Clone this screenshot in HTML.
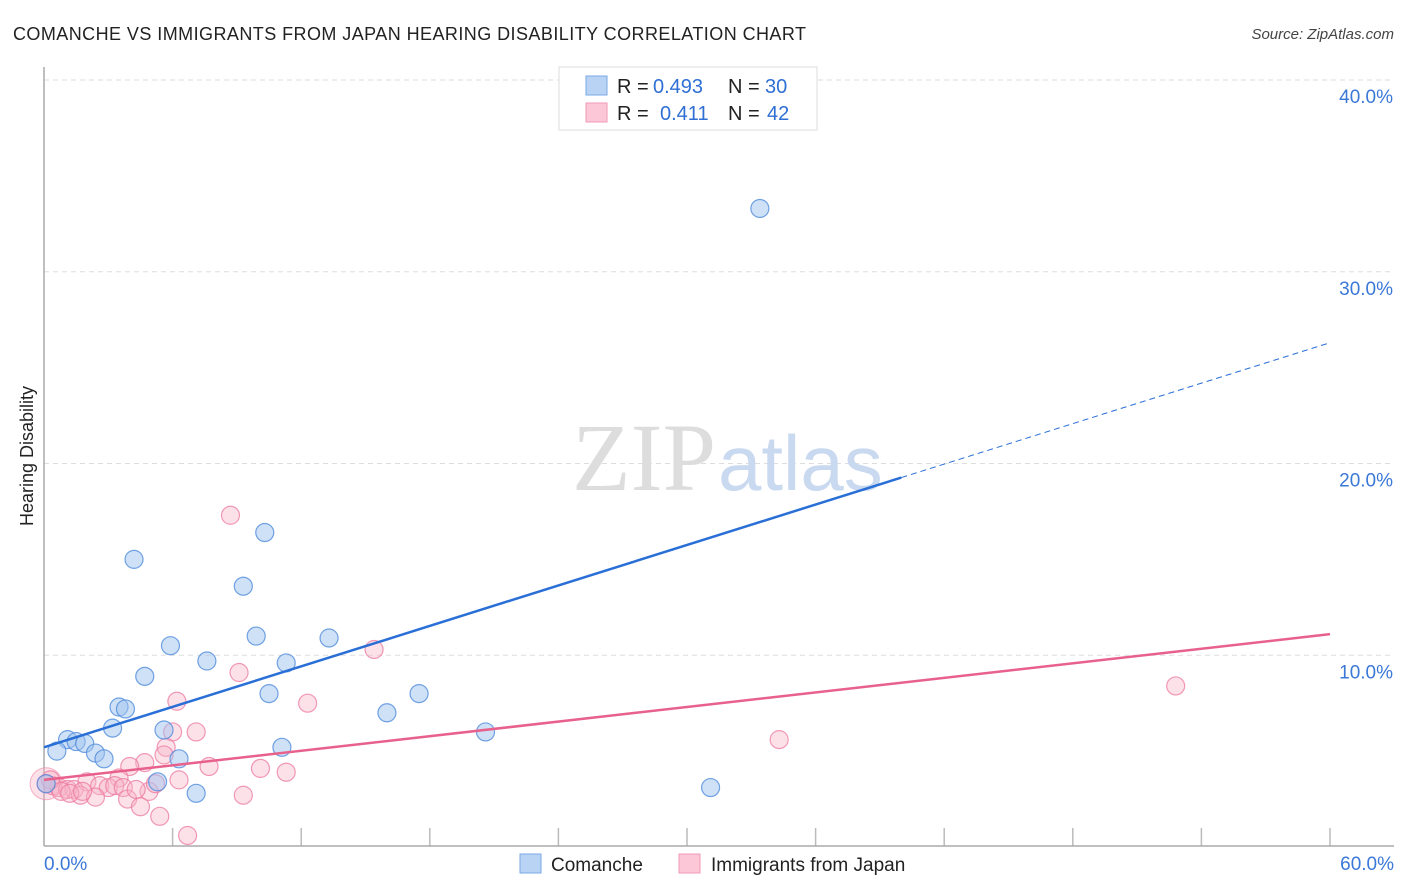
<!DOCTYPE html>
<html><head><meta charset="utf-8"><style>
body{margin:0;background:#fff;font-family:"Liberation Sans",sans-serif;}
svg{display:block}
</style></head><body>
<svg id="chart" width="1406" height="892" xmlns="http://www.w3.org/2000/svg">
<text x="13" y="40" font-size="18" fill="#222" textLength="793" lengthAdjust="spacing">COMANCHE VS IMMIGRANTS FROM JAPAN HEARING DISABILITY CORRELATION CHART</text>
<text x="1394" y="39" font-size="15" fill="#444" font-style="italic" text-anchor="end">Source: ZipAtlas.com</text>
<g id="grid"></g>
<text x="716" y="490" font-size="96" font-family="Liberation Serif,serif" fill="#ddd" text-anchor="end">ZIP</text>
<text x="718" y="490" font-size="78" fill="#c9d9f0">atlas</text>
<line x1="44" y1="67" x2="44" y2="846" stroke="#aaa" stroke-width="1.5"/>
<line x1="44" y1="846" x2="1394" y2="846" stroke="#aaa" stroke-width="1.5"/>
<text transform="translate(33,456) rotate(-90)" font-size="18" fill="#222" text-anchor="middle">Hearing Disability</text>
<g id="marks"></g>
<g>
<rect x="559" y="67" width="258" height="63" fill="#fff" stroke="#ddd"/>
<rect x="586" y="76" width="21" height="19" fill="#b9d3f5" stroke="#7aa8e6"/>
<rect x="586" y="103" width="21" height="19" fill="#fcc8d7" stroke="#f09ab5"/>
<text x="617" y="93" font-size="20" fill="#222">R =</text>
<text x="653" y="93" font-size="20" fill="#2f6fd4">0.493</text>
<text x="728" y="93" font-size="20" fill="#222">N =</text>
<text x="765" y="93" font-size="20" fill="#2f6fd4">30</text>
<text x="617" y="120" font-size="20" fill="#222">R =</text>
<text x="660" y="120" font-size="20" fill="#2f6fd4">0.411</text>
<text x="728" y="120" font-size="20" fill="#222">N =</text>
<text x="767" y="120" font-size="20" fill="#2f6fd4">42</text>
</g>
<g>
<rect x="520" y="854" width="21" height="19" fill="#b9d3f5" stroke="#7aa8e6"/>
<text x="551" y="871" font-size="19" fill="#222">Comanche</text>
<rect x="679" y="854" width="21" height="19" fill="#fcc8d7" stroke="#f09ab5"/>
<text x="711" y="871" font-size="19" fill="#222">Immigrants from Japan</text>
</g>
</svg>
<script>
const yTicks=[10,20,30,40];
const yTickLabels=["10.0%","20.0%","30.0%","40.0%"];
const xTickLabels=["0.0%","60.0%"];
const blueX=[33.4,10.3,4.2,9.3,9.9,5.9,13.3,7.6,4.7,11.3,10.5,17.5,3.5,3.8,16.0,3.2,5.6,20.6,1.1,1.5,1.9,2.4,2.8,6.3,11.1,0.6,5.3,7.1,31.1,0.1];
const blueY=[33.3,16.4,15.0,13.6,11.0,10.5,10.9,9.7,8.9,9.6,8.0,8.0,7.3,7.2,7.0,6.2,6.1,6.0,5.6,5.5,5.4,4.9,4.6,4.6,5.2,5.0,3.4,2.8,3.1,3.3];
const pinkX=[8.7,15.4,52.8,9.1,6.2,12.3,7.1,6.0,5.7,5.6,34.3,4.7,4.0,7.7,10.1,11.3,6.3,3.5,2.0,2.6,3.0,3.3,3.7,0.4,0.7,1.1,1.4,1.7,2.4,3.9,4.9,4.3,5.2,9.3,4.5,5.4,6.7,0.3,0.1,0.8,1.2,1.8];
const pinkY=[17.3,10.3,8.4,9.1,7.6,7.5,6.0,6.0,5.2,4.8,5.6,4.4,4.2,4.2,4.1,3.9,3.5,3.6,3.4,3.2,3.1,3.2,3.1,3.2,3.1,3.0,3.0,2.7,2.6,2.5,2.9,3.0,3.3,2.7,2.1,1.6,0.6,3.5,3.3,2.9,2.8,2.9];
const blueTrend=[5.2,26.3];
const pinkTrend=[3.5,11.1];
const NS="http://www.w3.org/2000/svg";
const sx=v=>44+v*(1286/60);
const sy=v=>847-v*19.175;
const grid=document.getElementById('grid');
const marks=document.getElementById('marks');
function mk(tag,attrs,parent){const e=document.createElementNS(NS,tag);for(const k in attrs)e.setAttribute(k,attrs[k]);parent.appendChild(e);return e;}
yTicks.forEach((t,i)=>{
 const l=mk('line',{x1:44,x2:1394,y1:sy(t),y2:sy(t),stroke:'#ddd','stroke-dasharray':'5,4'},grid);
 
 
 const tx=mk('text',{x:1393,y:sy(t)+23,'font-size':19,fill:'#3b78d8','text-anchor':'end'},grid);
 tx.textContent=yTickLabels[i];
 
 
});
for(let k=1;k<=10;k++){
 const l=mk('line',{x1:sx(k*6),x2:sx(k*6),y1:828,y2:846,stroke:'#bbb','stroke-width':1.5},grid);
 
 
}
[[0,'start',44],[60,'end',1394]].forEach((d,i)=>{
 const tx=mk('text',{x:d[2],y:870,'font-size':19,fill:'#3b78d8','text-anchor':d[1]},grid);
 tx.textContent=xTickLabels[i];
 
 
});
const bc=mk('circle',{cx:sx(0.1),cy:sy(3.3),r:16,fill:'rgba(248,180,200,0.4)',stroke:'rgba(236,130,165,0.6)'},marks);


pinkX.forEach((x,i)=>{
 const c=mk('circle',{cx:sx(x),cy:sy(pinkY[i]),r:9,fill:'rgba(248,180,200,0.4)',stroke:'rgba(236,120,160,0.75)','stroke-width':1.2},marks);
 
 
});
blueX.forEach((x,i)=>{
 const c=mk('circle',{cx:sx(x),cy:sy(blueY[i]),r:9,fill:'rgba(160,196,240,0.5)',stroke:'rgba(80,140,220,0.8)','stroke-width':1.2},marks);
 
 
});
const bEnd=40;
const bAt=x=>blueTrend[0]+(blueTrend[1]-blueTrend[0])*x/60;
const t1=mk('line',{x1:sx(0),y1:sy(bAt(0)),x2:sx(bEnd),y2:sy(bAt(bEnd)),stroke:'#2a6fd6','stroke-width':2.5},marks);


const t2=mk('line',{x1:sx(bEnd),y1:sy(bAt(bEnd)),x2:sx(60),y2:sy(bAt(60)),stroke:'#2a6fd6','stroke-width':1,'stroke-dasharray':'6,4'},marks);


const t3=mk('line',{x1:sx(0),y1:sy(pinkTrend[0]),x2:sx(60),y2:sy(pinkTrend[1]),stroke:'#e8608c','stroke-width':2.5},marks);


</script>
</body></html>
